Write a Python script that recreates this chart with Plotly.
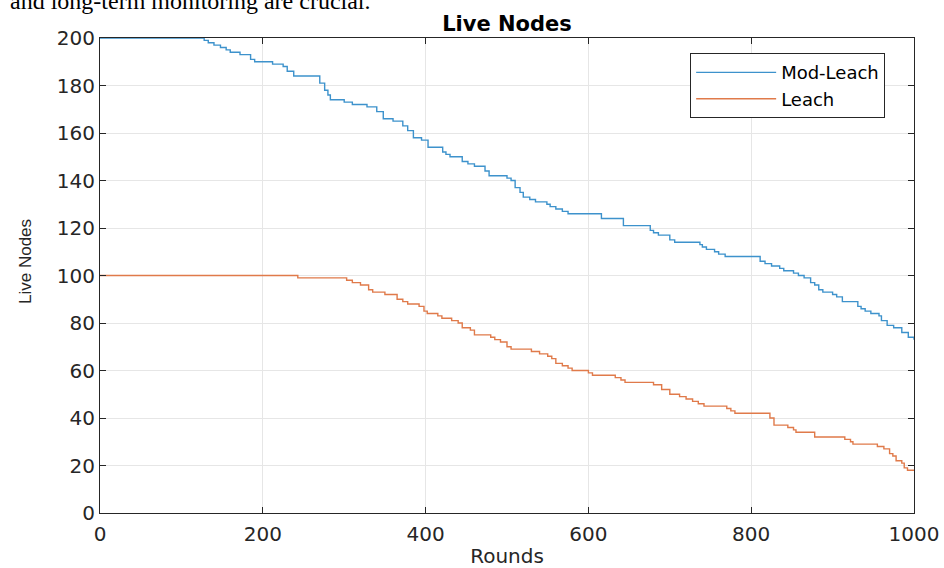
import plotly.graph_objects as go

# Mod-Leach: rounds where live-node count changes, and the count from that round on
mod_rounds = [0, 128, 133, 140, 148, 155, 160, 172, 185, 190, 212, 225, 230, 238, 270, 276, 280, 283,
              300, 310, 328, 340, 348, 360, 372, 378, 385, 395, 403, 421, 425, 430, 445, 452, 460, 473,
              478, 500, 505, 510, 516, 520, 528, 535, 549, 553, 560, 568, 575, 585, 590, 616, 622, 643,
              650, 676, 680, 686, 700, 706, 712, 737, 740, 745, 755, 760, 768, 811, 817, 825, 835, 840,
              852, 858, 865, 873, 878, 883, 888, 900, 905, 912, 931, 935, 940, 947, 957, 960, 967, 975,
              985, 993, 1000]
mod_nodes = [200, 199, 198, 197, 196, 195, 194, 193, 191, 190, 189, 188, 186, 184, 181, 178, 176, 174,
             173, 172, 171, 169, 166, 165, 163, 161, 158, 157, 154, 152, 151, 150, 148, 147, 146, 144,
             142, 141, 140, 137, 135, 133, 132, 131, 130, 129, 128, 127, 126, 126, 126, 124, 124, 121,
             121, 119, 118, 117, 115, 114, 114, 113, 112, 111, 110, 109, 108, 106, 105, 104, 103, 102,
             101, 100, 99, 97, 96, 94, 93, 92, 91, 89, 87, 86, 85, 84, 83, 81, 79, 78,
             76, 74, 73]

# Leach
leach_rounds = [0, 243, 303, 310, 320, 330, 335, 350, 365, 372, 378, 392, 398, 402, 415, 420, 432, 440,
                445, 455, 460, 480, 485, 492, 500, 505, 530, 540, 550, 555, 560, 568, 575, 580, 600,
                605, 633, 640, 645, 680, 690, 700, 712, 720, 728, 735, 742, 770, 775, 780, 823, 828,
                845, 852, 855, 878, 915, 922, 925, 955, 963, 970, 974, 978, 985, 988, 992, 1000]
leach_nodes = [100, 99, 98, 97, 96, 94, 93, 92, 90, 89, 88, 87, 85, 84, 83, 82, 81, 80,
               78, 77, 75, 74, 73, 72, 70, 69, 68, 67, 66, 65, 63, 62, 61, 60, 59,
               58, 57, 56, 55, 54, 52, 50, 49, 48, 47, 46, 45, 44, 43, 42, 40, 37,
               36, 35, 34, 32, 31, 30, 29, 28, 27, 25, 24, 22, 21, 19, 18, 18]

x_ticks = [0, 200, 400, 600, 800, 1000]
y_ticks = [0, 20, 40, 60, 80, 100, 120, 140, 160, 180, 200]

AX = "#262626"
WIDE = "DejaVu Sans, Verdana, sans-serif"
NARROW = "Liberation Sans, Arial, sans-serif"

fig = go.Figure()
fig.add_trace(go.Scatter(x=mod_rounds, y=mod_nodes, mode="lines", name="Mod-Leach",
                         line=dict(color="#3d92cc", width=1.4, shape="hv")))
fig.add_trace(go.Scatter(x=leach_rounds, y=leach_nodes, mode="lines", name="Leach",
                         line=dict(color="#e07a4a", width=1.4, shape="hv")))

axis_common = dict(showline=True, linecolor=AX, linewidth=1, mirror="ticks",
                   ticks="inside", ticklen=6, tickcolor=AX, tickwidth=1,
                   showgrid=True, gridcolor="#e6e6e6", gridwidth=1, zeroline=False,
                   automargin=False,
                   tickfont=dict(family=WIDE, size=20, color=AX))

fig.update_xaxes(range=[0, 1000], tickvals=x_ticks, ticktext=[str(v) for v in x_ticks],
                 ticklabelstandoff=3,
                 title=dict(text="Rounds", font=dict(family=WIDE, size=20, color=AX), standoff=8),
                 **axis_common)
fig.update_yaxes(range=[0, 200], tickvals=y_ticks, ticktext=[str(v) for v in y_ticks],
                 **axis_common)

fig.update_layout(
    width=944, height=568,
    margin=dict(l=100, r=30, t=38, b=55),
    paper_bgcolor="white", plot_bgcolor="white",
    title=dict(text="<b>Live Nodes</b>", x=0.5, xref="paper", y=1 - 24 / 568, yref="container",
               xanchor="center", yanchor="middle", font=dict(family=WIDE, size=21, color="black")),
    legend=dict(x=0.725, y=0.968, xanchor="left", yanchor="top",
                bgcolor="white", bordercolor=AX, borderwidth=1,
                font=dict(family=WIDE, size=18, color="black"),
                itemwidth=80, tracegroupgap=0),
    showlegend=True,
    annotations=[
        dict(text="and long-term monitoring are crucial.", xref="paper", yref="paper",
             x=(8 - 100) / 814, y=(513 - 16) / 475, xanchor="left", yanchor="bottom",
             showarrow=False,
             font=dict(family="Liberation Serif, Times New Roman, serif", size=24, color="black")),
        dict(text="Live Nodes", xref="paper", yref="paper",
             x=(25 - 100) / 814, y=(513 - 262) / 475, xanchor="center", yanchor="middle",
             textangle=-90, showarrow=False,
             font=dict(family=NARROW, size=17, color=AX)),
    ],
)

fig.write_html("out.html")
